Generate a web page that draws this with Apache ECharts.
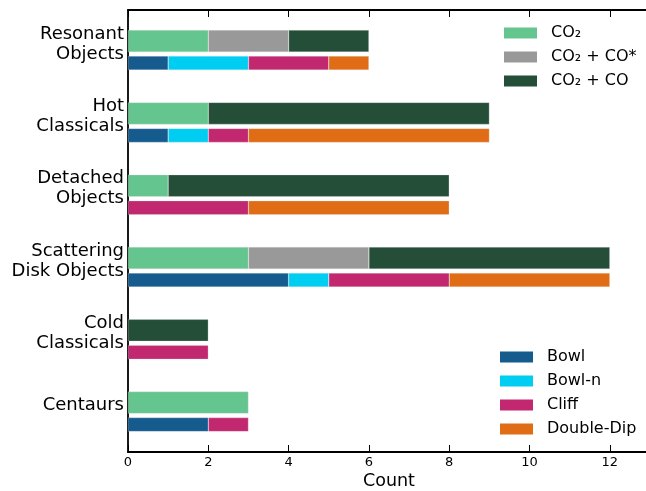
<!DOCTYPE html>
<html>
<head>
<meta charset="utf-8">
<script src="https://cdn.jsdelivr.net/npm/echarts@6/dist/echarts.min.js"></script>
<style>
  html, body { margin: 0; padding: 0; background: #fff; }
  #chart { width: 646px; height: 491px; }
</style>
</head>
<body>
<div id="chart"></div>
<script>
// Object classes, top to bottom
const categories = ['Resonant\nObjects', 'Hot\nClassicals', 'Detached\nObjects',
                    'Scattering\nDisk Objects', 'Cold\nClassicals', 'Centaurs'];

// Composition counts (upper bar of each class)
const co2       = [2, 2, 1, 3, 0, 3];
const co2CoStar = [2, 0, 0, 3, 0, 0];
const co2Co     = [2, 7, 7, 6, 2, 0];

// Spectral shape counts (lower bar of each class)
const bowl      = [1, 1, 0, 4, 0, 2];
const bowlN     = [2, 1, 0, 1, 0, 0];
const cliff     = [2, 1, 3, 3, 2, 1];
const doubleDip = [1, 6, 5, 4, 0, 0];

const xTicks = [0, 2, 4, 6, 8, 10, 12];

const FONT = 'DejaVu Sans';
const X_MAX = 13;
const LEFT = 128, WIDTH = 522;
const BAND_H = 433.8;          // six category bands
const TOP_BARS = 4.95;         // grid top for the upper bars
const LOWER_OFFSET = 22;       // lower bars sit right under the upper ones

const chart = echarts.init(document.getElementById('chart'), null, { renderer: 'canvas' });

const hiddenX = (grid) => ({
  type: 'value', gridIndex: grid, min: 0, max: X_MAX, show: false
});
const hiddenY = (grid) => ({
  type: 'category', gridIndex: grid, data: categories, inverse: true, show: false
});

const nz = (arr) => arr.map(v => (v === 0 ? '-' : v));

// grid 1 -> xAxis 2 / yAxis 1, grid 2 -> xAxis 3 / yAxis 2
function barSeries(name, values, color, grid, stack, width) {
  return {
    type: 'bar', name, data: nz(values), stack,
    xAxisIndex: grid + 1, yAxisIndex: grid,
    barWidth: width,
    itemStyle: { color, borderColor: 'rgba(230,230,230,0.55)', borderWidth: 0.5 },
    emphasis: { disabled: true },
    animation: false
  };
}

const gridBox = (top, height) => ({
  left: LEFT, top, width: WIDTH, height, outerBoundsMode: 'none', containLabel: false
});

const legendBase = {
  orient: 'vertical',
  itemWidth: 33, itemHeight: 11, itemGap: 8, icon: 'rect',
  selectedMode: false,
  itemStyle: { borderWidth: 0 },
  textStyle: { fontFamily: FONT, fontSize: 16, lineHeight: 16, color: '#000',
               padding: [0, 0, 0, 9] }
};

const option = {
  animation: false,
  backgroundColor: '#ffffff',
  textStyle: { fontFamily: FONT },
  grid: [
    gridBox(10, 442),                                // frame with axes
    gridBox(TOP_BARS, BAND_H),                       // upper bars
    gridBox(TOP_BARS + LOWER_OFFSET, BAND_H),        // lower bars
    gridBox(TOP_BARS + 3, BAND_H)                    // category labels
  ],
  xAxis: [
    {
      type: 'value', gridIndex: 0, min: 0, max: X_MAX, position: 'bottom',
      name: 'Count', nameLocation: 'middle', nameGap: 20, nameMoveOverlap: false,
      nameTextStyle: { fontFamily: FONT, fontSize: 17.5, color: '#000' },
      axisLine: { show: true, lineStyle: { color: '#000', width: 1.8 } },
      axisTick: { show: true, inside: true, length: 7, customValues: xTicks,
                  lineStyle: { color: '#000', width: 1 } },
      axisLabel: { show: true, customValues: xTicks, margin: 4,
                   fontFamily: FONT, fontSize: 13, color: '#000' },
      splitLine: { show: false }
    },
    {
      type: 'value', gridIndex: 0, min: 0, max: X_MAX, position: 'top',
      axisLine: { show: true, lineStyle: { color: '#000', width: 1.8 } },
      axisTick: { show: true, inside: true, length: 7, customValues: xTicks,
                  lineStyle: { color: '#000', width: 1 } },
      axisLabel: { show: false },
      splitLine: { show: false }
    },
    hiddenX(1), hiddenX(2), hiddenX(3)
  ],
  yAxis: [
    {
      type: 'value', gridIndex: 0, min: 0, max: 1,
      axisLine: { show: true, lineStyle: { color: '#000', width: 1.8 } },
      axisTick: { show: false }, axisLabel: { show: false },
      splitLine: { show: false }
    },
    hiddenY(1), hiddenY(2),
    {
      type: 'category', gridIndex: 3, data: categories, inverse: true,
      axisLine: { show: false }, axisTick: { show: false },
      axisLabel: { show: true, margin: 4, fontFamily: FONT, fontSize: 18,
                   lineHeight: 20, color: '#000', align: 'right' },
      splitLine: { show: false }
    }
  ],
  legend: [
    Object.assign({}, legendBase, {
      data: ['CO₂', 'CO₂ + CO*', 'CO₂ + CO'],
      left: 499, top: 20
    }),
    Object.assign({}, legendBase, {
      data: ['Bowl', 'Bowl-n', 'Cliff', 'Double-Dip'],
      left: 495, top: 344
    })
  ],
  series: [
    barSeries('CO₂',        co2,       '#64c58f', 1, 'comp', 22),
    barSeries('CO₂ + CO*',  co2CoStar, '#999999', 1, 'comp', 22),
    barSeries('CO₂ + CO',   co2Co,     '#254e39', 1, 'comp', 22),
    barSeries('Bowl',       bowl,      '#165b8e', 2, 'shape', 14),
    barSeries('Bowl-n',     bowlN,     '#00cdf2', 2, 'shape', 14),
    barSeries('Cliff',      cliff,     '#c1286f', 2, 'shape', 14),
    barSeries('Double-Dip', doubleDip, '#e06c15', 2, 'shape', 14)
  ]
};

chart.setOption(option);
</script>
</body>
</html>
